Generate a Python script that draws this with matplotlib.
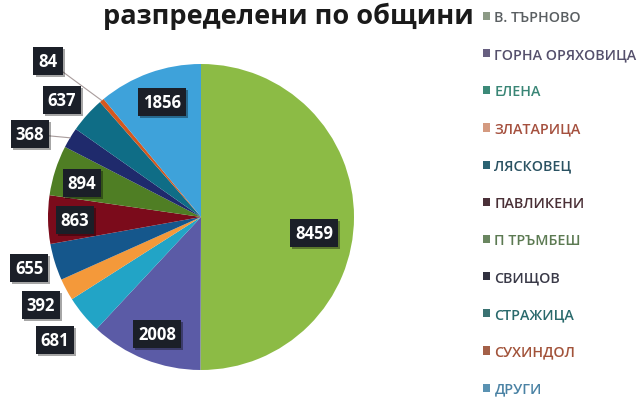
import matplotlib
matplotlib.use("Agg")
import matplotlib.pyplot as plt
from matplotlib.patches import Patch
import matplotlib.patheffects as pe
import numpy as np

# ---- data ----
categories = ["В. ТЪРНОВО", "ГОРНА ОРЯХОВИЦА", "ЕЛЕНА", "ЗЛАТАРИЦА", "ЛЯСКОВЕЦ",
              "ПАВЛИКЕНИ", "П ТРЪМБЕШ", "СВИЩОВ", "СТРАЖИЦА", "СУХИНДОЛ", "ДРУГИ"]
values = [8459, 2008, 681, 392, 655, 863, 894, 368, 637, 84, 1856]
title_text = "разпределени по общини"

# ---- styles ----
slice_colors = ["#8cbb45", "#5b5ba6", "#22a4c6", "#f4993a", "#15578c", "#7b0b1b",
                "#4f7e24", "#1f2a6c", "#0f6d86", "#d4581f", "#3ea2da"]
legend_marker_colors = ["#8c9a86", "#675f80", "#3c8a78", "#d49a80", "#2a6272", "#4a3038",
                        "#6a8660", "#30303f", "#3a7272", "#a46048", "#5a92b2"]
legend_text_colors = ["#5a5f62", "#55506c", "#3a8676", "#a5503e", "#2a5262", "#4a3036",
                      "#5c7a52", "#3a3a48", "#2a6a6c", "#a2533a", "#4a82a4"]
# label box positions (pie radius units, relative to pie centre)
label_pos = [(0.739, -0.105), (-0.288, -0.765), (-0.954, -0.804), (-1.046, -0.575),
             (-1.124, -0.333), (-0.824, -0.020), (-0.778, 0.222), (-1.118, 0.542),
             (-0.908, 0.765), (-1.000, 1.020), (-0.255, 0.752)]
leader = [False, False, False, False, False, False, False, True, False, True, False]

W, H = 638, 402
fig = plt.figure(figsize=(W / 100, H / 100), dpi=100)
fig.patch.set_facecolor("white")

cx, cy, R = 201, 218, 153
ax = fig.add_axes([(cx - R) / W, (H - cy - R) / H, 2 * R / W, 2 * R / H])

wedges, _ = ax.pie(values, colors=slice_colors, startangle=90, counterclock=False,
                   radius=1.0, wedgeprops=dict(linewidth=0))
ax.set_xlim(-1, 1)
ax.set_ylim(-1, 1)
ax.set_aspect("equal")
ax.axis("off")

for i, (w, v) in enumerate(zip(wedges, values)):
    lx, ly = label_pos[i]
    box = dict(boxstyle="square,pad=0.3", facecolor="#1b1f28", edgecolor="none")
    if leader[i]:
        ang = np.deg2rad((w.theta1 + w.theta2) / 2)
        ex, ey = np.cos(ang), np.sin(ang)
        t = ax.annotate(str(v), xy=(ex, ey), xytext=(lx, ly), ha="center", va="center",
                        fontsize=12, fontweight="bold", color="white", family="Open Sans",
                        bbox=box, annotation_clip=False,
                        arrowprops=dict(arrowstyle="-", color="#a89c9c", lw=0.8,
                                        shrinkA=0, shrinkB=0))
    else:
        t = ax.text(lx, ly, str(v), ha="center", va="center", fontsize=12,
                    fontweight="bold", color="white", family="Open Sans", bbox=box)
    t.get_bbox_patch().set_path_effects([
        pe.withSimplePatchShadow(offset=(1.5, -1.5), shadow_rgbFace="k", alpha=0.35),
        pe.Normal()])

# title (last visible line of the original heading)
fig.text(288 / W, 1 - 24 / H, title_text, ha="center", va="baseline", fontsize=19.5,
         fontweight="bold", color="#1a1a1a", family="Open Sans")

handles = [Patch(facecolor=c, edgecolor="none") for c in legend_marker_colors]
leg = fig.legend(handles, categories, loc="upper left",
                 bbox_to_anchor=(483 / W, 1 - 11 / H), frameon=False,
                 prop=dict(family="Open Sans", size=10.3, weight="semibold"),
                 handlelength=0.5, handleheight=0.5, handletextpad=0.3,
                 labelspacing=1.62, borderpad=0, borderaxespad=0)
for txt, c in zip(leg.get_texts(), legend_text_colors):
    txt.set_color(c)

fig.savefig("out.png", dpi=100)
